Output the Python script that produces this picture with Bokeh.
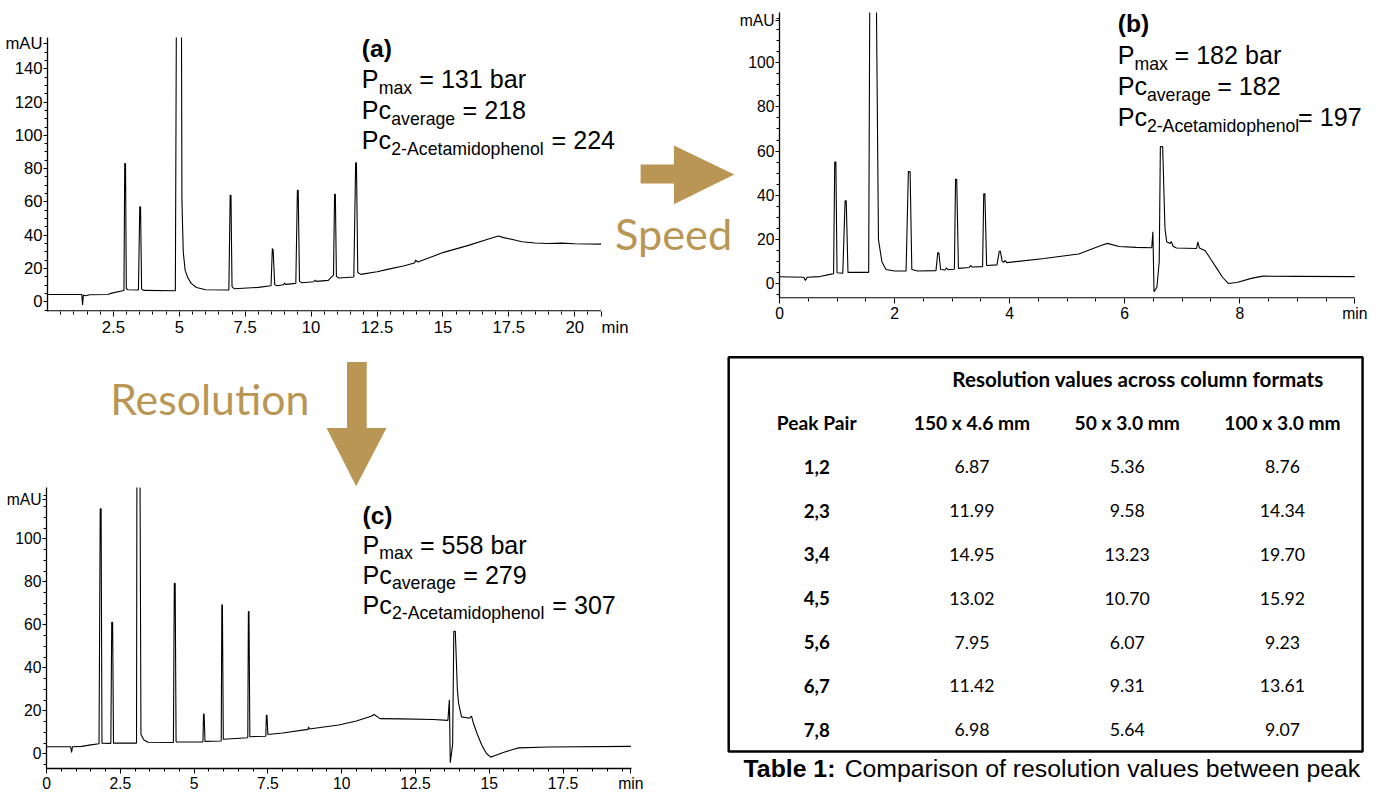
from bokeh.plotting import figure
from bokeh.layouts import row, column
from bokeh.models import Range1d, FixedTicker, Label
from bokeh.core.properties import value
from bokeh.embed import file_html
from bokeh.resources import INLINE

# ---------------- data: chromatogram (a) 150 x 4.6 mm ----------------
a_trace = [(0.00, 4.3), (1.30, 4.3), (1.33, -2.0), (1.36, 4.0), (1.45, 3.6), (1.60, 4.2),
           (2.30, 4.3), (2.40, 5.0), (2.85, 6.6), (2.90, 6.8), (2.93, 83.0), (2.96, 83.0),
           (2.99, 8.0), (3.05, 7.2), (3.45, 7.0), (3.50, 57.0), (3.53, 57.0), (3.57, 7.6),
           (3.65, 6.8), (4.85, 6.6), (4.92, 300.0), (5.06, 300.0), (5.10, 60.0), (5.15, 30.0),
           (5.22, 19.0), (5.32, 14.5), (5.45, 11.0), (5.65, 8.5), (6.00, 7.2), (6.88, 7.0),
           (6.93, 64.0), (6.96, 64.0), (7.00, 9.0), (7.08, 7.8), (8.00, 8.6), (8.48, 9.6),
           (8.53, 32.0), (8.56, 31.0), (8.62, 10.2), (8.72, 9.6), (8.95, 10.2), (8.99, 11.2),
           (9.03, 10.4), (9.42, 11.0), (9.48, 67.0), (9.51, 67.0), (9.56, 12.2), (9.65, 11.4),
           (10.10, 12.0), (10.15, 13.0), (10.20, 12.2), (10.65, 12.8), (10.75, 14.5), (10.85, 16.0),
           (10.89, 64.5), (10.92, 64.5), (10.96, 15.2), (11.05, 14.2), (11.62, 14.8), (11.69, 83.5),
           (11.72, 83.5), (11.77, 17.5), (11.88, 16.4), (12.50, 18.0), (12.90, 19.4), (13.50, 21.5),
           (13.92, 23.2), (13.97, 25.0), (14.05, 23.8), (15.00, 29.5), (16.00, 34.0), (16.70, 37.5),
           (17.10, 39.5), (17.30, 38.5), (17.60, 37.5), (18.00, 36.0), (18.50, 35.3), (19.00, 35.0),
           (19.50, 35.2), (20.00, 34.8), (21.00, 34.6)]
a_xticks = [2.5, 5, 7.5, 10, 12.5, 15, 17.5, 20]
a_xlabels = ["2.5", "5", "7.5", "10", "12.5", "15", "17.5", "20"]
a_yticks = [0, 20, 40, 60, 80, 100, 120, 140]
a_panel, a_pmax, a_pc_avg, a_pc_2a = "(a)", "131 bar", "218", "224"

# ---------------- data: chromatogram (b) 50 x 3.0 mm ----------------
b_trace = [(0.00, 3.2), (0.42, 3.0), (0.45, 1.5), (0.48, 3.0), (0.70, 3.3), (0.90, 4.4),
           (0.94, 4.6), (0.96, 55.0), (0.98, 55.0), (1.00, 5.0), (1.10, 4.8), (1.14, 37.5),
           (1.16, 37.5), (1.19, 5.2), (1.55, 5.2), (1.58, 200.0), (1.66, 200.0), (1.72, 20.0),
           (1.78, 10.0), (1.85, 6.5), (2.00, 5.8), (2.20, 5.8), (2.24, 50.7), (2.27, 50.7),
           (2.30, 6.5), (2.40, 5.8), (2.72, 6.0), (2.75, 14.0), (2.77, 14.0), (2.80, 6.5),
           (2.88, 6.3), (2.90, 7.2), (2.93, 6.4), (3.04, 6.6), (3.06, 47.3), (3.08, 47.3),
           (3.11, 7.0), (3.30, 7.4), (3.32, 8.3), (3.35, 7.6), (3.53, 7.8), (3.55, 40.7),
           (3.57, 40.7), (3.60, 8.3), (3.78, 8.6), (3.82, 14.7), (3.84, 14.7), (3.87, 10.2),
           (3.90, 9.8), (3.92, 10.6), (3.95, 9.6), (4.60, 11.5), (5.20, 13.5), (5.60, 17.5),
           (5.70, 18.3), (5.90, 16.9), (6.20, 16.5), (6.47, 16.3), (6.49, 23.5), (6.51, -3.5),
           (6.56, -1.5), (6.60, 10.0), (6.62, 62.0), (6.66, 62.0), (6.70, 25.0), (6.73, 19.0),
           (6.79, 18.2), (6.81, 19.2), (6.84, 17.0), (6.90, 16.2), (7.25, 16.0), (7.27, 19.0),
           (7.30, 16.2), (7.40, 15.0), (7.50, 11.0), (7.60, 7.0), (7.70, 3.0), (7.80, 0.2),
           (7.95, 0.6), (8.20, 2.5), (8.40, 3.5), (9.00, 3.4), (10.00, 3.3)]
b_xticks = [0, 2, 4, 6, 8]
b_xlabels = ["0", "2", "4", "6", "8"]
b_yticks = [0, 20, 40, 60, 80, 100]
b_panel, b_pmax, b_pc_avg, b_pc_2a = "(b)", "182 bar", "182", "197"

# ---------------- data: chromatogram (c) 100 x 3.0 mm ----------------
c_trace = [(0.00, 3.3), (0.82, 3.3), (0.85, 0.7), (0.88, 3.3), (1.19, 3.5), (1.50, 4.2),
           (1.78, 4.7), (1.82, 114.0), (1.85, 114.0), (1.88, 5.0), (2.18, 4.9), (2.21, 61.2),
           (2.24, 61.2), (2.27, 5.0), (3.05, 5.0), (3.07, 200.0), (3.15, 200.0), (3.20, 9.0),
           (3.30, 6.5), (3.44, 5.4), (4.30, 5.3), (4.33, 79.3), (4.36, 79.3), (4.39, 5.6),
           (5.30, 5.5), (5.32, 18.5), (5.34, 18.5), (5.37, 5.8), (5.92, 6.0), (5.94, 69.3),
           (5.96, 69.3), (5.99, 6.8), (6.82, 7.5), (6.84, 66.2), (6.86, 66.2), (6.89, 8.0),
           (7.43, 8.2), (7.45, 18.0), (7.47, 18.0), (7.50, 9.0), (8.00, 9.7), (8.86, 11.4),
           (8.88, 12.6), (8.90, 11.6), (9.90, 13.4), (10.50, 15.3), (11.00, 17.5), (11.10, 18.3),
           (11.30, 16.4), (12.00, 16.3), (13.10, 16.0), (13.60, 15.6), (13.65, 25.2), (13.68, -4.1),
           (13.76, 4.4), (13.80, 57.0), (13.85, 57.0), (13.92, 30.0), (13.96, 23.7), (14.06, 17.2),
           (14.33, 16.6), (14.40, 17.6), (14.47, 14.0), (14.60, 9.0), (14.75, 4.0), (14.90, 0.3),
           (15.05, -1.5), (15.20, -0.8), (15.50, 0.8), (15.80, 2.0), (16.00, 2.8), (17.00, 3.2),
           (19.80, 3.5)]
c_xticks = [0, 2.5, 5, 7.5, 10, 12.5, 15, 17.5]
c_xlabels = ["0", "2.5", "5", "7.5", "10", "12.5", "15", "17.5"]
c_yticks = [0, 20, 40, 60, 80, 100]
c_panel, c_pmax, c_pc_avg, c_pc_2a = "(c)", "558 bar", "279", "307"

# ---------------- data: table ----------------
table_title = "Resolution values across column formats"
table_columns = ["Peak Pair", "150 x 4.6 mm", "50 x 3.0 mm", "100 x 3.0 mm"]
peak_pairs = ["1,2", "2,3", "3,4", "4,5", "5,6", "6,7", "7,8"]
res_150x46 = [6.87, 11.99, 14.95, 13.02, 7.95, 11.42, 6.98]
res_50x30 = [5.36, 9.58, 13.23, 10.70, 6.07, 9.31, 5.64]
res_100x30 = [8.76, 14.34, 19.70, 15.92, 9.23, 13.61, 9.07]
caption_bold = "Table 1:"
caption_text = "Comparison of resolution values between peak"
arrow_speed = "Speed"
arrow_resolution = "Resolution"

# ---------------- geometry helpers ----------------
GOLD = "#BA9654"
W, H = 1367, 794
SX, SY = W / 1383, H / 812
FS = (SX + SY) / 2
NB = "\u00a0"
MID = 0.36  # centre of capitals above the baseline, in em


def X(v):
    return int(round(v * SX))


def Y(v):
    return int(round(v * SY))


def fs(s):
    return f"{s * FS:.1f}px"


ARIAL = {' ': 278, '(': 333, ')': 333, '-': 333, '=': 584, '.': 278, ',': 278, ':': 278,
         'A': 667, 'P': 667, 'C': 722, 'T': 611, 'a': 556, 'b': 556, 'c': 500, 'd': 556,
         'e': 556, 'g': 556, 'h': 556, 'i': 222, 'k': 500, 'l': 222, 'm': 833, 'n': 556,
         'o': 556, 'p': 556, 'r': 333, 's': 500, 't': 278, 'u': 556, 'v': 500, 'w': 722, 'x': 500}
ARIAL_B = {' ': 278, ':': 333, 'T': 611, 'a': 556, 'b': 611, 'e': 556, 'l': 278}


def tw(s, size, bold=False):
    tbl = ARIAL_B if bold else ARIAL
    return sum(tbl.get(ch, 556) for ch in s) / 1000 * size


def no_align(p):
    try:
        p.frame_align = False
    except Exception:
        pass


def style_axis(ax, size):
    ax.axis_line_color = "black"
    ax.axis_line_width = 1.3
    ax.major_tick_line_color = "black"
    ax.minor_tick_line_color = "black"
    ax.major_tick_out = 5
    ax.major_tick_in = 0
    ax.minor_tick_out = 3
    ax.minor_tick_in = 0
    ax.major_label_standoff = 1
    ax.major_label_text_font = "Liberation Sans"
    ax.major_label_text_font_size = fs(size)
    ax.major_label_text_color = "black"


def chrom(canvas, frame, xr, yr, xticks, xlabels, xminor, yticks, ylabels, yminor,
          tick_size, trace, x_end=None):
    cx0, cy0, cx1, cy1 = canvas
    L, T, R, B = frame
    p = figure(width=X(cx1) - X(cx0), height=Y(cy1) - Y(cy0),
               x_range=Range1d(*xr), y_range=Range1d(*yr),
               output_backend="svg", toolbar_location=None, title=None,
               min_border_left=X(L) - X(cx0), min_border_right=X(cx1) - X(R),
               min_border_top=Y(T) - Y(cy0), min_border_bottom=Y(cy1) - Y(B))
    no_align(p)
    p.grid.visible = False
    p.outline_line_color = None
    p.background_fill_color = "white"
    p.border_fill_color = "white"
    p.xaxis.ticker = FixedTicker(ticks=xticks, minor_ticks=xminor)
    p.xaxis.major_label_overrides = {t: l for t, l in zip(xticks, xlabels)}
    p.yaxis.ticker = FixedTicker(ticks=yticks, minor_ticks=yminor)
    p.yaxis.major_label_overrides = {t: l for t, l in zip(yticks, ylabels)}
    style_axis(p.xaxis[0], tick_size)
    style_axis(p.yaxis[0], tick_size)
    p.yaxis[0].major_tick_out = 4
    t = [pt[0] for pt in trace]
    v = [pt[1] for pt in trace]
    p.line(t, v, line_color="black", line_width=1.1)

    def conv(xref, yref):
        return (xr[0] + (xref - L) / (R - L) * (xr[1] - xr[0]),
                yr[0] + (B - yref) / (B - T) * (yr[1] - yr[0]))

    if x_end is not None:
        # the axis line stops at the end of the time scale, the frame goes on (for texts)
        p.xaxis[0].axis_line_color = None
        ypx = (yr[1] - yr[0]) / (B - T)
        p.segment(x0=[xr[0]], x1=[x_end], y0=[yr[0] + 0.6 * ypx], y1=[yr[0] + 0.6 * ypx],
                  line_color="black", line_width=1.3)
    return p, conv


def label(p, conv, xref, ybase, text, size, bold=False, align="left",
          font="Liberation Sans", color="black"):
    x, y = conv(xref, ybase - MID * size)
    p.add_layout(Label(x=x, y=y, text=text, text_font=font, text_font_size=fs(size),
                       text_font_style="bold" if bold else "normal", text_align=align,
                       text_baseline="middle", text_color=color))


def info_block(p, conv, x0, baselines, panel, pmax, pc_avg, pc_2a, eq_space=" "):
    M, S, D = 25.5, 18, 6
    lines = [
        [(panel, 25, 0, True)],
        [("P", M, 0, False), ("max", S, D, False), (" = " + pmax, M, 0, False)],
        [("Pc", M, 0, False), ("average", S, D, False), (" = " + pc_avg, M, 0, False)],
        [("Pc", M, 0, False), ("2-Acetamidophenol", S, D, False), (eq_space + "= " + pc_2a, M, 0, False)],
    ]
    for segs, base in zip(lines, baselines):
        x = x0
        for text, size, dy, bold in segs:
            stripped = text.lstrip(" ")
            x += tw(text[:len(text) - len(stripped)], size, bold)
            label(p, conv, x, base + dy, stripped, size, bold)
            x += tw(stripped, size, bold)


def steps(lo, hi, step, majors):
    out = []
    k = 0
    while lo + k * step <= hi + 1e-9:
        v = round(lo + k * step, 3)
        if all(abs(v - m) > 1e-6 for m in majors):
            out.append(v)
        k += 1
    return out


# ---------------- chromatogram (a), with the "Speed" arrow in its free right part ----------------
A_PX_MIN = (608 - 48) / 21.0
a_ymau = (308 - 44) / 1.7
pa, ca = chrom((0, 0, 745, 350), (48, 38, 745, 318), (0, (745 - 48) / A_PX_MIN), (-5.9, 158.8),
               a_xticks + [21], a_xlabels + [NB * 6 + "min"], steps(0.5, 20.5, 0.5, a_xticks),
               a_yticks + [a_ymau], [str(t) for t in a_yticks] + ["mAU"],
               steps(-5, 155, 5, a_yticks), 17, a_trace, x_end=21)
info_block(pa, ca, 366, [58, 90, 121.7, 152.3], a_panel, a_pmax, a_pc_avg, a_pc_2a)
arrow_r = [(648, 167.7), (681.7, 167.7), (681.7, 148.3), (742.7, 178), (681.7, 208.3),
           (681.7, 187.3), (648, 187.3)]
pts = [ca(x, y) for x, y in arrow_r]
pa.patch(x=[q[0] for q in pts], y=[q[1] for q in pts], color=GOLD, line_width=0)
SP = 44
sx_, sy_ = ca(622, 254 - MID * SP)
pa.text(x=[sx_], y=[sy_], text=[arrow_speed], text_font=value("Lato"),
        text_font_size=value(fs(SP)), text_color=GOLD, text_align="left",
        text_baseline="middle")

# ---------------- chromatogram (b) ----------------
B_PX_MIN = (1370 - 780) / 10.0
b_ymau = (290 - 20) / 2.267
pb, cb = chrom((745, 0, 1383, 350), (780, 12, 1383, 305), (0, (1383 - 780) / B_PX_MIN), (-6.6, 122.6),
               b_xticks + [10], b_xlabels + ["min"], steps(0.5, 9.5, 0.5, b_xticks),
               b_yticks + [b_ymau], [str(t) for t in b_yticks] + ["mAU"],
               steps(-5, 120, 5, b_yticks), 16, b_trace, x_end=10)
info_block(pb, cb, 1127, [32, 65, 96.7, 128.3], b_panel, b_pmax, b_pc_avg, b_pc_2a, eq_space="")

# ---------------- chromatogram (c) ----------------
c_ymau = (776.7 - 510.7) / 2.25
pc, cc = chrom((0, 497, 665, 812), (47, 498, 638.5, 792), (0, 19.82), (-6.8, 123.9),
               c_xticks + [19.8], c_xlabels + ["min"], steps(0.5, 19.5, 0.5, c_xticks),
               c_yticks + [c_ymau], [str(t) for t in c_yticks] + ["mAU"],
               steps(-5, 120, 5, c_yticks), 16, c_trace)
info_block(pc, cc, 366.5, [536, 567.3, 598.3, 630], c_panel, c_pmax, c_pc_avg, c_pc_2a)


def blank(canvas):
    cx0, cy0, cx1, cy1 = canvas
    p = figure(width=X(cx1) - X(cx0), height=Y(cy1) - Y(cy0),
               x_range=Range1d(cx0, cx1), y_range=Range1d(cy1, cy0),
               output_backend="svg", toolbar_location=None, title=None,
               x_axis_type=None, y_axis_type=None, min_border=0)
    no_align(p)
    p.outline_line_color = None
    p.grid.visible = False
    return p


# ---------------- resolution arrow (between a and c) ----------------
pr = blank((0, 350, 665, 497))
pr.patch(x=[350.7, 370.7, 370.7, 390.7, 360, 330, 350.7],
         y=[370, 370, 437.3, 437.3, 496.7, 437.3, 437.3], color=GOLD, line_width=0)
RS = 43.5
pr.text(x=[111], y=[423.3 - MID * RS], text=[arrow_resolution], text_font=value("Lato"),
        text_font_size=value(fs(RS)), text_color=GOLD, text_align="left",
        text_baseline="middle")

# ---------------- table ----------------
TX0, TDX = 826, 157
TY0, TDY = 477, 44.8


def ci(xref):
    return (xref - TX0) / TDX


def rj(yref):
    return (yref - TY0) / TDY


pt = figure(width=X(1383) - X(665), height=Y(812) - Y(350),
            x_range=Range1d(ci(665), ci(1383)), y_range=Range1d(rj(812), rj(350)),
            output_backend="svg", toolbar_location=None, title=None,
            x_axis_type=None, y_axis_type=None, min_border=0)
no_align(pt)
pt.outline_line_color = None
pt.grid.visible = False
pt.quad(left=[ci(737)], right=[ci(1378)], top=[rj(365)], bottom=[rj(768)],
        fill_color=None, line_color="black", line_width=2.5)

tfont = value("Lato")
pt.text(x=[ci(1151)], y=[-2], text=[table_title], text_font=tfont,
        text_font_size=value(fs(21)), text_font_style=value("bold"),
        text_align="center", text_baseline="middle", text_color="black")
pt.text(x=list(range(len(table_columns))), y=[-1] * len(table_columns), text=table_columns,
        text_font=tfont, text_font_size=value(fs(19.5)), text_font_style=value("bold"),
        text_align="center", text_baseline="middle", text_color="black")
pt.text(x=[0] * len(peak_pairs), y=list(range(len(peak_pairs))), text=peak_pairs,
        text_font=tfont, text_font_size=value(fs(19)), text_font_style=value("bold"),
        text_align="center", text_baseline="middle", text_color="black")
for k, col in enumerate([res_150x46, res_50x30, res_100x30], start=1):
    pt.text(x=[k] * len(col), y=list(range(len(col))), text=[f"{v:.2f}" for v in col],
            text_font=tfont, text_font_size=value(fs(18)),
            text_align="center", text_baseline="middle", text_color="black")

CAP = 25.2
cap_mid = rj(794 - MID * CAP)
pt.text(x=[ci(752)], y=[cap_mid], text=[caption_bold], text_font=value("Liberation Sans"),
        text_font_size=value(fs(CAP)), text_font_style=value("bold"),
        text_align="left", text_baseline="middle", text_color="black")
pt.text(x=[ci(752 + tw(caption_bold + " ", CAP, True))], y=[cap_mid], text=[caption_text],
        text_font=value("Liberation Sans"), text_font_size=value(fs(CAP)),
        text_align="left", text_baseline="middle", text_color="black")

layout = column(row(pa, pb), row(column(pr, pc), pt))
open("out.html", "w").write(file_html(layout, INLINE))
